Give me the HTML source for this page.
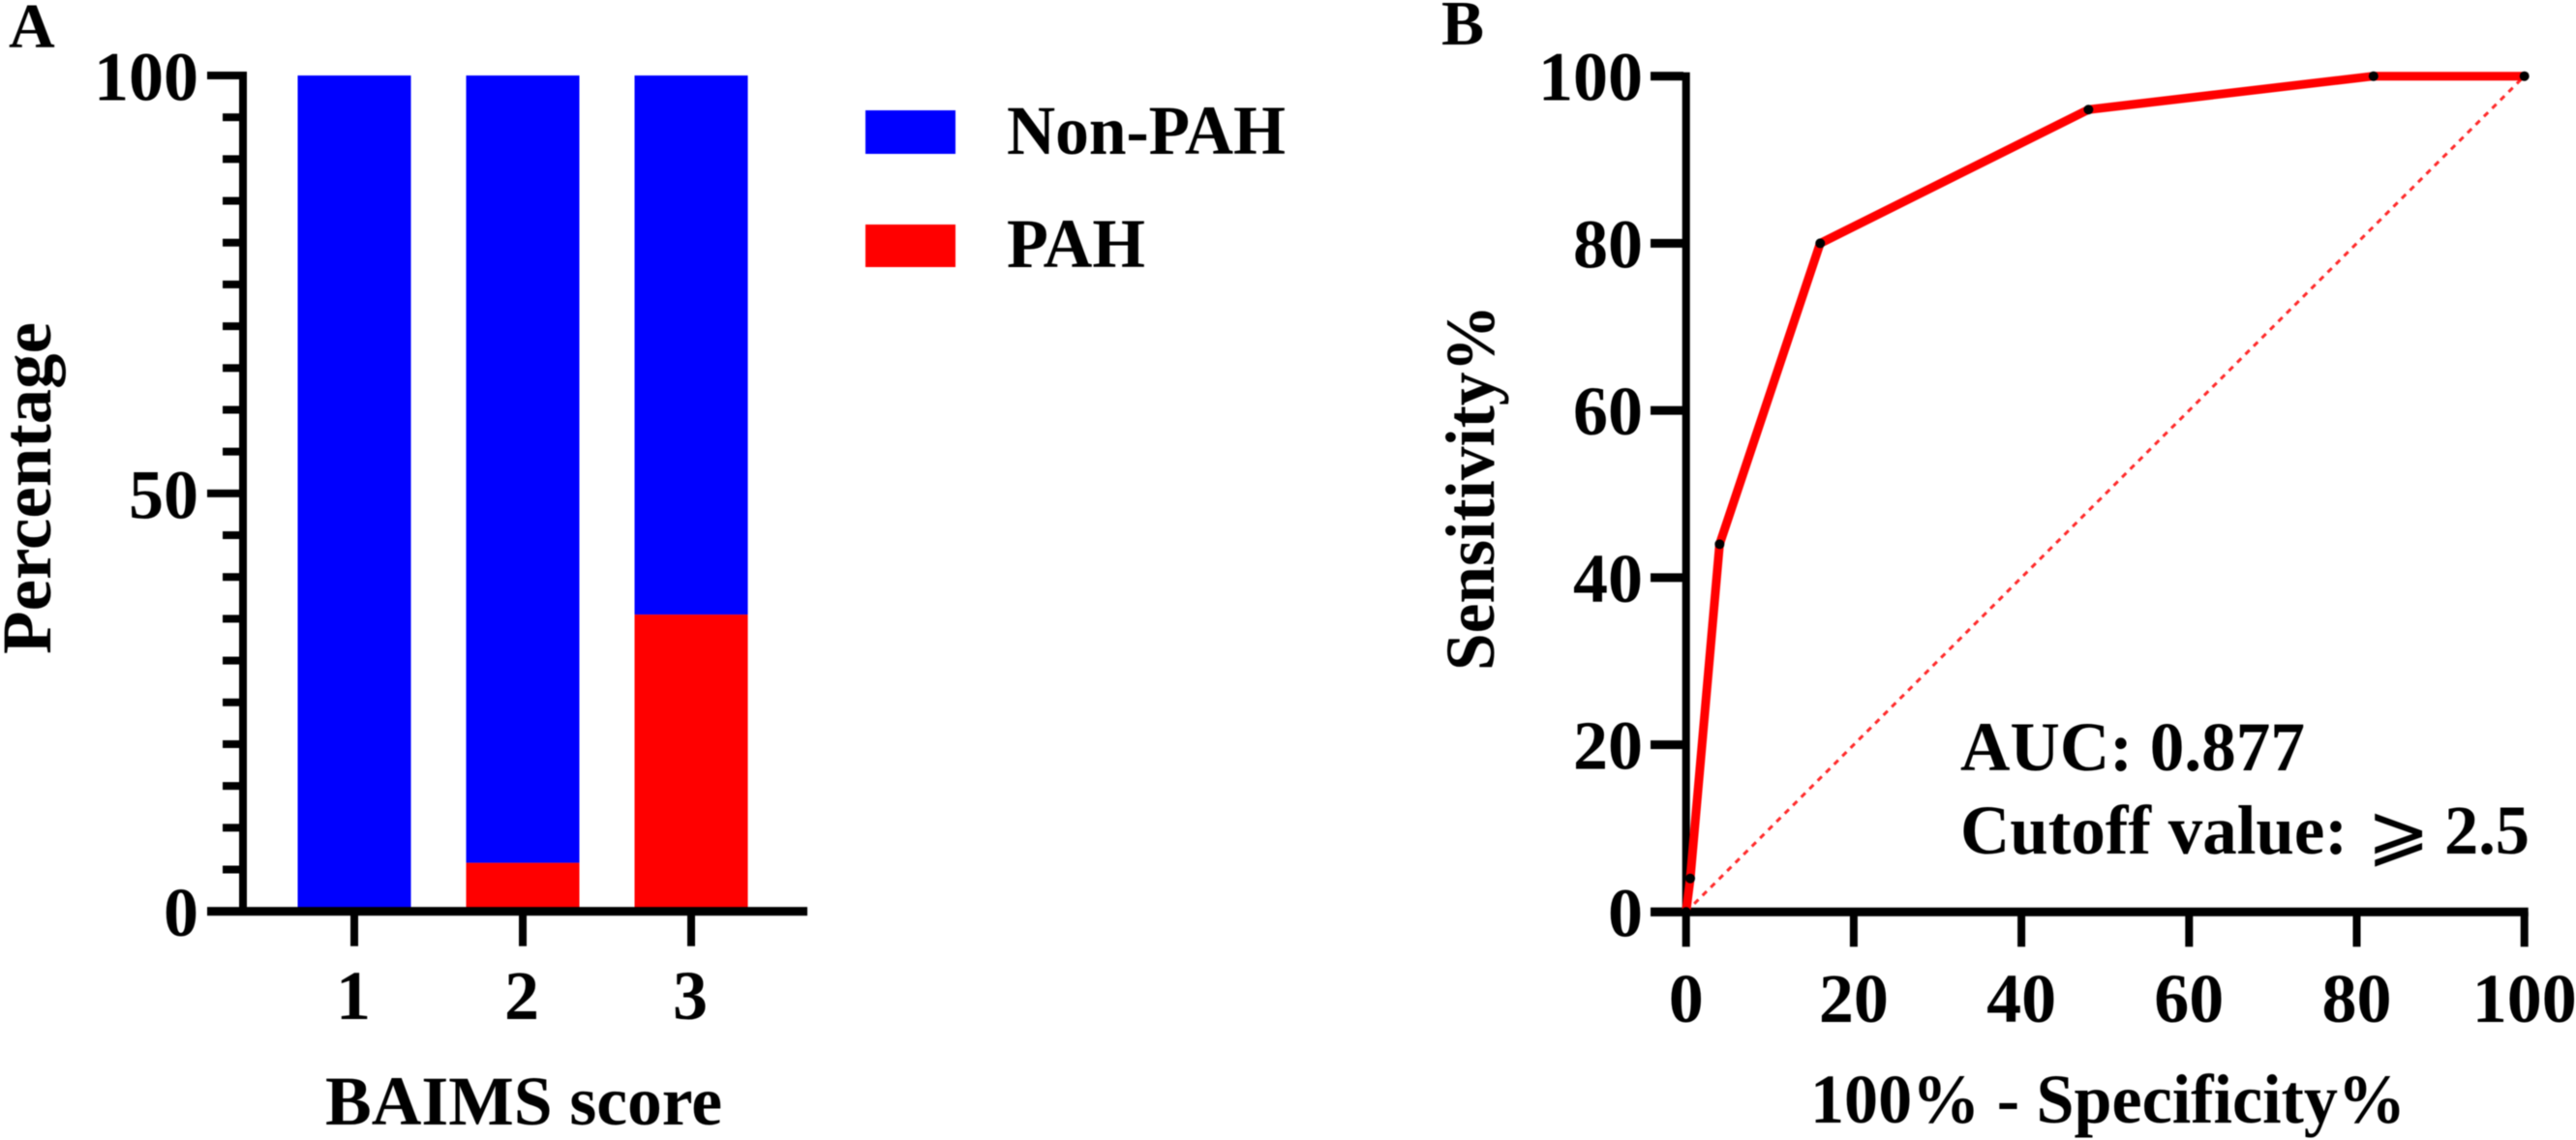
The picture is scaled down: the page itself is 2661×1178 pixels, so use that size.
<!DOCTYPE html>
<html lang="en">
<head>
<meta charset="utf-8">
<title>BAIMS score and ROC curve</title>
<style>
html,body{margin:0;padding:0;background:#fff;width:2661px;height:1178px;overflow:hidden}
svg{display:block;filter:blur(0.6px)}
text{font-family:"Liberation Serif","Noto Serif CJK SC",serif;font-weight:700;fill:#000}
.t{font-size:72px}
.p{font-size:66px}
.g{font-family:"DejaVu Sans","Noto Sans CJK SC",sans-serif;font-weight:400;font-size:78px}
</style>
</head>
<body>
<svg id="chart" xmlns="http://www.w3.org/2000/svg" width="2661" height="1178" viewBox="0 0 2661 1178">
  <rect width="2661" height="1178" fill="#fff"/>
  <text class="p" x="9" y="49">A</text>
  <text class="p" x="1489" y="46">B</text>
  <g id="panelA"></g>
  <g id="panelB"></g>
  <text class="t" transform="translate(52,676) rotate(-90)" x="0" y="0" textLength="343" lengthAdjust="spacingAndGlyphs">Percentage</text>
  <text class="t" x="336" y="1162" textLength="410" lengthAdjust="spacingAndGlyphs">BAIMS score</text>
  <rect x="894" y="114" width="93" height="45" fill="#0000ff"/>
  <text class="t" x="1040" y="159" textLength="288" lengthAdjust="spacingAndGlyphs">Non-PAH</text>
  <rect x="894" y="232" width="93" height="44" fill="#ff0000"/>
  <text class="t" x="1040" y="276" textLength="143" lengthAdjust="spacingAndGlyphs">PAH</text>
  <text class="t" transform="translate(1543,693) rotate(-90)" x="0" y="0" textLength="378" lengthAdjust="spacingAndGlyphs">Sensitivity%</text>
  <text class="t" x="1870" y="1160" textLength="615" lengthAdjust="spacingAndGlyphs">100% - Specificity%</text>
  <text class="t" x="2025" y="796" textLength="356" lengthAdjust="spacingAndGlyphs">AUC: 0.877</text>
  <text class="t" x="2025" y="882" textLength="400" lengthAdjust="spacingAndGlyphs">Cutoff value:</text>
  <text class="g" x="2445" y="886">⩾</text>
  <text class="t" x="2525" y="882" textLength="88" lengthAdjust="spacingAndGlyphs">2.5</text>
</svg>
<script>
// Panel A data
const barCategories = ['1', '2', '3'];
const pahValues = [0, 5.8, 35.5];
const nonPahValues = [100, 94.2, 64.5];
const yTicksA = [0, 50, 100];
const yMinorTicksA = [5, 10, 15, 20, 25, 30, 35, 40, 45, 55, 60, 65, 70, 75, 80, 85, 90, 95];

// Panel B data
const rocSpecificity = [0, 0.5, 4, 16, 48, 82, 100];
const rocSensitivity = [0, 4, 44, 80, 96, 100, 100];
const referenceX = [0, 100];
const referenceY = [0, 100];
const xTicksB = [0, 20, 40, 60, 80, 100];
const yTicksB = [0, 20, 40, 60, 80, 100];

const NS = 'http://www.w3.org/2000/svg';
const panelA = document.getElementById('panelA');
const panelB = document.getElementById('panelB');

function make(parent, tag, props, content) {
  const el = document.createElementNS(NS, tag);
  for (const k in props) el.setAttribute(k, props[k]);
  if (content !== undefined) el.textContent = content;
  parent.appendChild(el);
  return el;
}

// Axis functions
function xA(i) { return 366 + i * 174; }
function yA(v) { return 941.7 - v * 8.637; }
function xB(v) { return 1741.7 + v * 8.66; }
function yB(v) { return 942.3 - v * 8.636; }

// Panel A bars
const barW = 117;
barCategories.forEach(function (c, i) {
  const blue = make(panelA, 'rect', {
    x: xA(i) - barW / 2, y: yA(pahValues[i] + nonPahValues[i]),
    width: barW, height: yA(pahValues[i]) - yA(pahValues[i] + nonPahValues[i]), fill: '#0000ff'
  });
  
  
  if (pahValues[i] > 0) {
    const red = make(panelA, 'rect', {
      x: xA(i) - barW / 2, y: yA(pahValues[i]),
      width: barW, height: yA(0) - yA(pahValues[i]), fill: '#ff0000'
    });
    
    
  }
});

// Panel A axes
const yAxisA = make(panelA, 'rect', { x: 247, y: yA(100) - 4, width: 8, height: yA(0) - yA(100) + 8, fill: '#000' });


const xAxisA = make(panelA, 'rect', { x: 214, y: yA(0) - 4.5, width: 620, height: 9, fill: '#000' });



yTicksA.forEach(function (v) {
  const tick = make(panelA, 'rect', { x: 214, y: yA(v) - 4, width: 34, height: 8, fill: '#000' });
  
  
  const label = make(panelA, 'text', { class: 't', x: 205, y: yA(v) + 25.5, 'text-anchor': 'end' }, String(v));
  
  
});
yMinorTicksA.forEach(function (v) {
  const tick = make(panelA, 'rect', { x: 230, y: yA(v) - 4, width: 18, height: 8, fill: '#000' });
  
  
});
barCategories.forEach(function (c, i) {
  const tick = make(panelA, 'rect', { x: xA(i) - 4, y: yA(0), width: 8, height: 36, fill: '#000' });
  
  
  const label = make(panelA, 'text', { class: 't', x: xA(i) - 1, y: 1053, 'text-anchor': 'middle' }, c);
  
  
});

// Panel B axes
const yAxisB = make(panelB, 'rect', { x: xB(0) - 4, y: yB(100) - 4, width: 8, height: yB(0) - yB(100) + 8, fill: '#000' });


const xAxisB = make(panelB, 'rect', { x: 1705, y: yB(0) - 4.5, width: xB(100) + 4 - 1705, height: 9, fill: '#000' });



yTicksB.forEach(function (v) {
  const tick = make(panelB, 'rect', { x: 1705, y: yB(v) - 4.5, width: 34, height: 9, fill: '#000' });
  
  
  const label = make(panelB, 'text', { class: 't', x: 1697, y: yB(v) + 25, 'text-anchor': 'end' }, String(v));
  
  
});
xTicksB.forEach(function (v) {
  const tick = make(panelB, 'rect', { x: xB(v) - 4, y: yB(0), width: 8, height: 36, fill: '#000' });
  
  
  const label = make(panelB, 'text', { class: 't', x: xB(v), y: 1056, 'text-anchor': 'middle' }, String(v));
  
  
});

// Panel B reference line
const refLine = make(panelB, 'line', {
  x1: xB(referenceX[0]), y1: yB(referenceY[0]), x2: xB(referenceX[1]), y2: yB(referenceY[1]),
  stroke: '#ff2a2a', 'stroke-width': 3, 'stroke-dasharray': '6 6'
});



// Panel B ROC curve
const rocPoints = rocSpecificity.map(function (x, i) { return xB(x) + ',' + yB(rocSensitivity[i]); }).join(' ');
const rocLine = make(panelB, 'polyline', {
  points: rocPoints, fill: 'none', stroke: '#ff0000', 'stroke-width': 9, 'stroke-linejoin': 'round'
});


rocSpecificity.forEach(function (x, i) {
  const dot = make(panelB, 'circle', { cx: xB(x), cy: yB(rocSensitivity[i]), r: 5, fill: '#000' });
  
  
});
</script>
</body>
</html>
